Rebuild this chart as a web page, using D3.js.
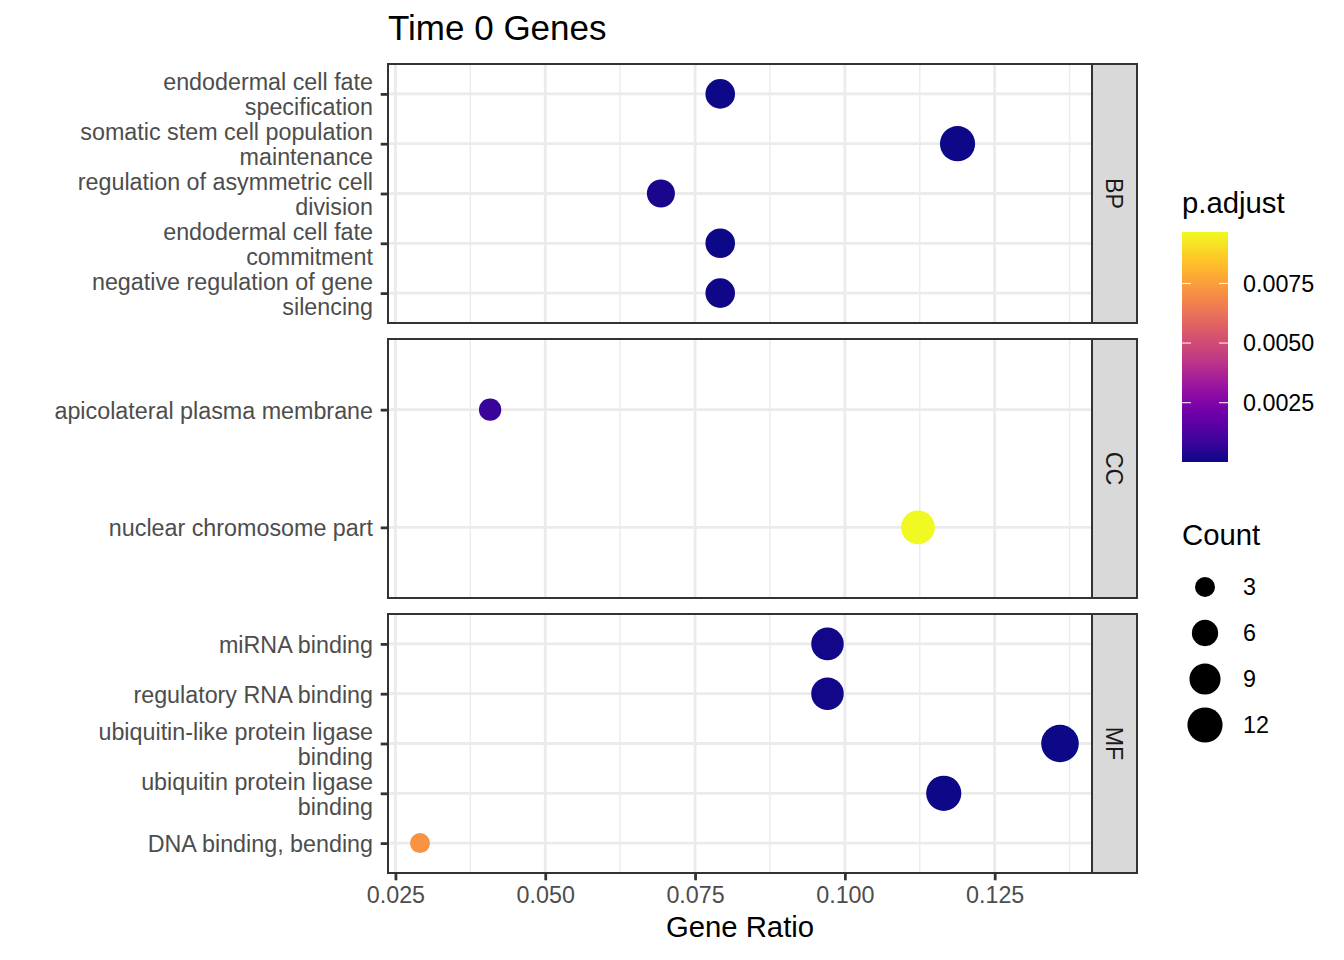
<!DOCTYPE html>
<html>
<head>
<meta charset="utf-8">
<script src="https://cdn.jsdelivr.net/npm/d3@7"></script>
<style>
  body { margin: 0; background: #ffffff; }
  text { font-family: "Liberation Sans", Arial, Helvetica, sans-serif; }
</style>
</head>
<body>
<div id="chart"></div>
<script>
////////////////////////////////////////////////////////////////////////////////
///////////////////////////////////////////////////////////////////////// Data
////////////////////////////////////////////////////////////////////////////////

const ontologies = ["BP", "CC", "MF"];

// BP terms, top to bottom
const bpTerms = [
  "endodermal cell fate specification",
  "somatic stem cell population maintenance",
  "regulation of asymmetric cell division",
  "endodermal cell fate commitment",
  "negative regulation of gene silencing"
];
const bpRatio = [0.0792, 0.1188, 0.0693, 0.0792, 0.0792];
const bpCount = [8, 12, 7, 8, 8];
const bpPadj  = [0.00003, 0.00001, 0.00019, 0.00003, 0.00005];

// CC terms
const ccTerms = [
  "apicolateral plasma membrane",
  "nuclear chromosome part"
];
const ccRatio = [0.0408, 0.1122];
const ccCount = [4, 11];
const ccPadj  = [0.0008, 0.00966];

// MF terms
const mfTerms = [
  "miRNA binding",
  "regulatory RNA binding",
  "ubiquitin-like protein ligase binding",
  "ubiquitin protein ligase binding",
  "DNA binding, bending"
];
const mfRatio = [0.0971, 0.0971, 0.1359, 0.1165, 0.0291];
const mfCount = [10, 10, 14, 12, 3];
const mfPadj  = [0.00012, 0.00012, 0.00003, 0.00004, 0.0072];

const xTicks = [0.025, 0.050, 0.075, 0.100, 0.125];
const padjBreaks = [0.0025, 0.0050, 0.0075];
const countBreaks = [3, 6, 9, 12];

const terms = [bpTerms, ccTerms, mfTerms];
const ratios = [bpRatio, ccRatio, mfRatio];
const counts = [bpCount, ccCount, mfCount];
const padjs = [bpPadj, ccPadj, mfPadj];

////////////////////////////////////////////////////////////////////////////////
/////////////////////////////////////////////////////////////////////// Layout
////////////////////////////////////////////////////////////////////////////////

const width = 1344;
const height = 960;
const panelLeft = 388;
const panelRight = 1092;
const stripWidth = 45;
const panelTops = [64, 339, 614];
const panelHeight = 259;

const gridColor = "#EBEBEB";
const darkLine = "#333333";
const axisTextSize = 23.3;

const svg = d3.select("#chart")
              .append("svg")
                .attr("width", width)
                .attr("height", height);

// wrap a label like str_wrap(width = 30)
function wrapLabel(label, maxLen) {
  const words = label.split(" ");
  const lines = [];
  let line = "";
  words.forEach(function(w) {
    if (line === "") {
      line = w;
    } else if ((line + " " + w).length <= maxLen) {
      line = line + " " + w;
    } else {
      lines.push(line);
      line = w;
    }
  });
  lines.push(line);
  return lines;
}

// Scales
const allRatio = d3.merge(ratios);
const allCount = d3.merge(counts);
const allPadj = d3.merge(padjs);

const ratioExtent = d3.extent(allRatio);
const ratioPad = (ratioExtent[1] - ratioExtent[0]) * 0.05;
const xScale = d3.scaleLinear()
                 .domain([ratioExtent[0] - ratioPad, ratioExtent[1] + ratioPad])
                 .range([panelLeft, panelRight]);

const sizeScale = d3.scaleSqrt()
                    .domain(d3.extent(allCount))
                    .range([10, 18.8]);

const colorScale = d3.scaleSequential(d3.interpolatePlasma)
                     .domain(d3.extent(allPadj));

const minorTicks = xTicks.map(function(t) { return t + 0.0125; })
                         .filter(function(t) { return t <= xScale.domain()[1]; });

////////////////////////////////////////////////////////////////////////////////
/////////////////////////////////////////////////////////////////////// Panels
////////////////////////////////////////////////////////////////////////////////

ontologies.forEach(function(ont, i) {
  const top = panelTops[i];
  const bottom = top + panelHeight;
  const rows = terms[i].map(function(t, j) {
    return { term: t, ratio: ratios[i][j], count: counts[i][j], padj: padjs[i][j] };
  });

  const yScale = d3.scalePoint()
                   .domain(terms[i])
                   .range([top, bottom])
                   .padding(0.6);

  const panel = svg.append("g").attr("class", "panel");

  // minor vertical grid
  panel.selectAll(".minor")
       .data(minorTicks)
       .join("line")
         .attr("x1", d => xScale(d))
         .attr("x2", d => xScale(d))
         .attr("y1", top)
         .attr("y2", bottom)
         .attr("stroke", gridColor)
         .attr("stroke-width", 1.4);

  // major vertical grid
  panel.selectAll(".major-x")
       .data(xTicks)
       .join("line")
         .attr("x1", d => xScale(d))
         .attr("x2", d => xScale(d))
         .attr("y1", top)
         .attr("y2", bottom)
         .attr("stroke", gridColor)
         .attr("stroke-width", 2.8);

  // major horizontal grid
  panel.selectAll(".major-y")
       .data(terms[i])
       .join("line")
         .attr("x1", panelLeft)
         .attr("x2", panelRight)
         .attr("y1", d => yScale(d))
         .attr("y2", d => yScale(d))
         .attr("stroke", gridColor)
         .attr("stroke-width", 2.8);

  // dots
  panel.selectAll(".dot")
       .data(rows)
       .join("circle")
         .attr("cx", d => xScale(d.ratio))
         .attr("cy", d => yScale(d.term))
         .attr("r", d => sizeScale(d.count))
         .attr("fill", d => colorScale(d.padj));

  // border
  panel.append("rect")
       .attr("x", panelLeft)
       .attr("y", top)
       .attr("width", panelRight - panelLeft)
       .attr("height", panelHeight)
       .attr("fill", "none")
       .attr("stroke", darkLine)
       .attr("stroke-width", 2);

  // strip
  panel.append("rect")
       .attr("x", panelRight)
       .attr("y", top)
       .attr("width", stripWidth)
       .attr("height", panelHeight)
       .attr("fill", "#D9D9D9")
       .attr("stroke", darkLine)
       .attr("stroke-width", 2);

  panel.append("text")
       .attr("transform", `translate(${panelRight + stripWidth / 2},${top + panelHeight / 2}) rotate(90)`)
       .attr("text-anchor", "middle")
       .attr("dy", "0.35em")
       .attr("font-size", axisTextSize)
       .attr("fill", "#1A1A1A")
       .text(ont);

  // y axis
  const yAxis = d3.axisLeft(yScale).tickSize(7.3).tickPadding(7.7);
  const yAxisG = svg.append("g")
                    .attr("transform", `translate(${panelLeft},0)`)
                    .call(yAxis)
                    .attr("font-size", axisTextSize)
                    .attr("font-family", null);
  yAxisG.select(".domain").remove();
  yAxisG.selectAll(".tick line")
        .attr("stroke", darkLine)
        .attr("stroke-width", 2.8);
  yAxisG.selectAll(".tick text")
        .attr("fill", "#4D4D4D")
        .each(function(d) {
          const lines = wrapLabel(d, 30);
          const t = d3.select(this);
          t.text(null).attr("dy", null);
          lines.forEach(function(l, k) {
            t.append("tspan")
             .attr("x", -15)
             .attr("y", 8.4 - (lines.length - 1) * 12.5 + k * 25)
             .text(l);
          });
        });
});

////////////////////////////////////////////////////////////////////////////////
/////////////////////////////////////////////////////////////////////// X axis
////////////////////////////////////////////////////////////////////////////////

const xAxis = d3.axisBottom(xScale)
                .tickValues(xTicks)
                .tickFormat(d3.format(".3f"))
                .tickSize(7.3)
                .tickPadding(6);

const xAxisG = svg.append("g")
                  .attr("transform", `translate(0,${panelTops[2] + panelHeight})`)
                  .call(xAxis)
                  .attr("font-size", axisTextSize)
                  .attr("font-family", null);
xAxisG.select(".domain").remove();
xAxisG.selectAll(".tick line")
      .attr("stroke", darkLine)
      .attr("stroke-width", 2.8);
xAxisG.selectAll(".tick text")
      .attr("fill", "#4D4D4D");

// Titles
svg.append("text")
   .attr("x", panelLeft)
   .attr("y", 40)
   .attr("font-size", 35)
   .attr("fill", "#000")
   .text("Time 0 Genes");

svg.append("text")
   .attr("x", (panelLeft + panelRight) / 2)
   .attr("y", 937)
   .attr("text-anchor", "middle")
   .attr("font-size", 29.3)
   .attr("fill", "#000")
   .text("Gene Ratio");

////////////////////////////////////////////////////////////////////////////////
/////////////////////////////////////////////////////////////////////// Legend
////////////////////////////////////////////////////////////////////////////////

const legendX = 1182;
const labelX = 1243;

// p.adjust colorbar
svg.append("text")
   .attr("x", legendX)
   .attr("y", 213)
   .attr("font-size", 29.3)
   .text("p.adjust");

const barTop = 232;
const barBottom = 462;
const barWidth = 46;

const gradient = svg.append("defs")
                    .append("linearGradient")
                      .attr("id", "padj-gradient")
                      .attr("x1", 0).attr("y1", 1)
                      .attr("x2", 0).attr("y2", 0);
gradient.selectAll("stop")
        .data(d3.range(0, 1.0001, 0.05))
        .join("stop")
          .attr("offset", d => d)
          .attr("stop-color", d => d3.interpolatePlasma(d));

svg.append("rect")
   .attr("x", legendX)
   .attr("y", barTop)
   .attr("width", barWidth)
   .attr("height", barBottom - barTop)
   .attr("fill", "url(#padj-gradient)");

const barScale = d3.scaleLinear()
                   .domain(colorScale.domain())
                   .range([barBottom, barTop]);

padjBreaks.forEach(function(v) {
  const y = barScale(v);
  svg.append("line")
     .attr("x1", legendX).attr("x2", legendX + 9)
     .attr("y1", y).attr("y2", y)
     .attr("stroke", "#fff").attr("stroke-opacity", 0.85).attr("stroke-width", 1.2);
  svg.append("line")
     .attr("x1", legendX + barWidth - 9).attr("x2", legendX + barWidth)
     .attr("y1", y).attr("y2", y)
     .attr("stroke", "#fff").attr("stroke-opacity", 0.85).attr("stroke-width", 1.2);
  svg.append("text")
     .attr("x", labelX)
     .attr("y", y + 8.4)
     .attr("font-size", axisTextSize)
     .text(d3.format(".4f")(v));
});

// Count legend
svg.append("text")
   .attr("x", legendX)
   .attr("y", 545)
   .attr("font-size", 29.3)
   .text("Count");

countBreaks.forEach(function(v, k) {
  const cy = 587 + k * 46;
  svg.append("circle")
     .attr("cx", 1205)
     .attr("cy", cy)
     .attr("r", sizeScale(v))
     .attr("fill", "#000");
  svg.append("text")
     .attr("x", labelX)
     .attr("y", cy + 8.4)
     .attr("font-size", axisTextSize)
     .text(v);
});
</script>
</body>
</html>
